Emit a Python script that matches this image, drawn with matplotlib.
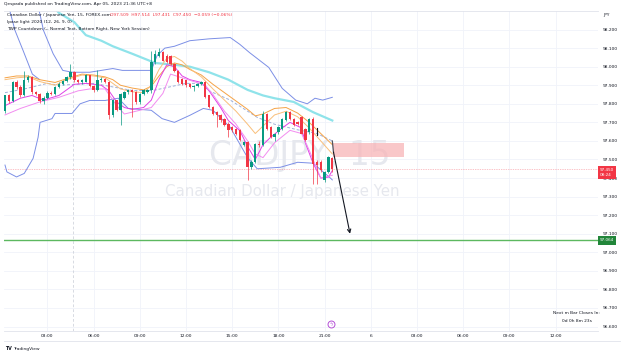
import matplotlib.pyplot as plt
import matplotlib.transforms as mtransforms
from matplotlib.patches import Rectangle
import numpy as np

# ---- candles (15m bars, index 0 = Apr 05 00:00) ----
bars = list(range(1, 87))
opens = [97.760, 97.845, 97.815, 97.917, 97.890, 97.845, 97.930, 97.944, 97.863, 97.855,
         97.815, 97.830, 97.860, 97.855, 97.890, 97.908, 97.925, 97.944, 97.971, 97.926,
         97.917, 97.920, 97.953, 97.895, 97.872, 97.926, 97.935, 97.917, 97.738, 97.818,
         97.764, 97.830, 97.863, 97.872, 97.863, 97.809, 97.854, 97.865, 97.874, 98.024,
         98.055, 98.078, 98.060, 98.055, 98.015, 97.975, 97.935, 97.926, 97.905, 97.890,
         97.895, 97.905, 97.917, 97.845, 97.782, 97.756, 97.738, 97.720, 97.693, 97.675,
         97.666, 97.657, 97.576, 97.594, 97.460, 97.487, 97.585, 97.576, 97.747, 97.675,
         97.620, 97.648, 97.666, 97.711, 97.756, 97.720, 97.700, 97.729, 97.666, 97.648,
         97.720, 97.487, 97.487, 97.388, 97.433, 97.509]
highs = [97.850, 97.855, 97.925, 97.930, 97.900, 97.975, 97.955, 97.950, 97.870, 97.860,
         97.840, 97.870, 97.870, 97.895, 97.915, 97.930, 97.950, 98.015, 97.975, 97.935,
         97.935, 97.960, 97.955, 97.900, 97.980, 97.945, 97.940, 97.925, 97.825, 97.822,
         97.858, 97.868, 97.880, 97.880, 97.870, 97.860, 97.878, 97.878, 98.087, 98.090,
         98.100, 98.085, 98.068, 98.062, 98.020, 97.980, 97.940, 97.930, 97.910, 97.900,
         97.910, 97.922, 97.925, 97.850, 97.790, 97.762, 97.745, 97.725, 97.700, 97.680,
         97.672, 97.662, 97.600, 97.600, 97.495, 97.590, 97.600, 97.760, 97.752, 97.680,
         97.645, 97.680, 97.725, 97.760, 97.762, 97.725, 97.705, 97.735, 97.672, 97.725,
         97.730, 97.495, 97.495, 97.440, 97.520, 97.514]
lows = [97.750, 97.805, 97.810, 97.880, 97.835, 97.840, 97.920, 97.855, 97.850, 97.805,
        97.800, 97.825, 97.850, 97.850, 97.885, 97.900, 97.918, 97.935, 97.920, 97.910,
        97.905, 97.915, 97.890, 97.865, 97.868, 97.915, 97.912, 97.720, 97.729, 97.760,
        97.684, 97.825, 97.855, 97.729, 97.800, 97.800, 97.850, 97.860, 97.860, 98.015,
        98.050, 98.028, 98.020, 98.010, 97.970, 97.912, 97.900, 97.892, 97.885, 97.870,
        97.890, 97.900, 97.830, 97.775, 97.740, 97.675, 97.700, 97.680, 97.621, 97.650,
        97.632, 97.598, 97.570, 97.388, 97.450, 97.480, 97.565, 97.570, 97.660, 97.615,
        97.600, 97.640, 97.660, 97.705, 97.715, 97.680, 97.685, 97.635, 97.598, 97.640,
        97.370, 97.370, 97.435, 97.380, 97.425, 97.431]
closes = [97.845, 97.815, 97.917, 97.890, 97.845, 97.930, 97.944, 97.863, 97.855, 97.815,
          97.830, 97.860, 97.855, 97.890, 97.908, 97.925, 97.944, 97.971, 97.926, 97.917,
          97.930, 97.953, 97.895, 97.872, 97.926, 97.935, 97.917, 97.738, 97.818, 97.764,
          97.854, 97.863, 97.872, 97.863, 97.809, 97.854, 97.872, 97.874, 98.024, 98.069,
          98.078, 98.033, 98.024, 98.015, 97.975, 97.920, 97.908, 97.899, 97.890, 97.895,
          97.905, 97.917, 97.836, 97.782, 97.747, 97.738, 97.711, 97.684, 97.657, 97.657,
          97.639, 97.603, 97.594, 97.460, 97.487, 97.585, 97.576, 97.747, 97.666, 97.620,
          97.640, 97.675, 97.720, 97.756, 97.720, 97.684, 97.690, 97.639, 97.603, 97.720,
          97.478, 97.469, 97.442, 97.433, 97.514, 97.450]

# ---- indicator lines at sample bars ----
cyan_x = [12, 15, 19, 22, 26, 29, 34, 40, 45, 49, 54, 59, 64, 68, 71, 76, 81, 86]
cyan_y = [98.36, 98.29, 98.24, 98.17, 98.14, 98.11, 98.07, 98.02, 98.01, 98.00, 97.97,
          97.93, 97.875, 97.845, 97.83, 97.81, 97.755, 97.71]

bb_up_x = [8, 10, 11, 13.5, 16, 18.5, 23, 29, 31.5, 39, 40.5, 42.5, 45, 49, 54, 59.5, 62,
           64.5, 69.5, 73, 76.5, 79.5, 81.5, 83.5, 86]
bb_up_y = [98.45, 98.29, 98.195, 98.07, 97.98, 97.97, 97.97, 97.99, 97.98, 97.98, 98.06,
           98.10, 98.11, 98.14, 98.15, 98.157, 98.12, 98.076, 97.996, 97.883, 97.82, 97.80,
           97.83, 97.82, 97.835]
band2_x = [1, 3.6, 5.7, 8.1, 10]
band2_y = [98.40, 98.195, 98.087, 97.96, 97.93]

bb_lo_x = [1, 1.5, 4, 6, 8.3, 9.6, 10.1, 13.2, 14, 18.4, 20.5, 23, 27, 30.4, 33, 39, 41.8,
           45, 49, 52.5, 55, 59.5, 64, 66.5, 72.5, 77, 81, 85.5, 86]
bb_lo_y = [97.47, 97.433, 97.406, 97.425, 97.506, 97.62, 97.70, 97.72, 97.748, 97.748,
           97.80, 97.818, 97.818, 97.83, 97.775, 97.765, 97.72, 97.70, 97.738, 97.775,
           97.765, 97.673, 97.51, 97.45, 97.458, 97.485, 97.48, 97.40, 97.39]

basis_x = [1, 6, 12, 15, 24, 34, 39.5, 48, 52, 54, 59.5, 66.5, 71, 77, 82, 86]
basis_y = [97.86, 97.88, 97.91, 97.90, 97.91, 97.872, 97.872, 97.91, 97.91, 97.87, 97.82,
           97.727, 97.69, 97.66, 97.64, 97.60]

org_slow_x = [1, 4, 7, 10, 14, 17, 21, 24, 27, 29, 31, 34, 37, 39, 41, 43, 45, 47, 49, 52,
              55, 58, 61, 64, 66, 68, 71, 74, 77, 80, 83, 86]
org_slow_y = [97.94, 97.95, 97.95, 97.93, 97.915, 97.935, 97.96, 97.955, 97.945, 97.93,
              97.90, 97.885, 97.875, 97.895, 97.95, 98.00, 98.02, 98.01, 97.985, 97.955,
              97.905, 97.86, 97.815, 97.77, 97.735, 97.745, 97.775, 97.78, 97.75, 97.70,
              97.64, 97.58]
org_fast_x = [1, 4, 7, 10, 14, 17, 21, 24, 27, 29, 31, 34, 37, 39, 41, 43, 45, 47, 49, 52,
              55, 58, 61, 64, 66, 68, 71, 74, 77, 80, 83, 86]
org_fast_y = [97.93, 97.94, 97.945, 97.92, 97.90, 97.93, 97.955, 97.95, 97.94, 97.91,
              97.88, 97.865, 97.86, 97.90, 97.985, 98.045, 98.055, 98.03, 97.99, 97.945,
              97.88, 97.82, 97.76, 97.69, 97.64, 97.68, 97.74, 97.76, 97.73, 97.67, 97.60,
              97.53]

mag1_x = [1, 5, 8, 11, 15, 19, 22, 26, 28, 30, 32, 34, 37, 39, 41, 43, 45, 47, 49, 52, 54,
          57, 59, 62, 64, 66, 68, 70, 73, 75, 78, 79, 81, 83, 85, 86]
mag1_y = [97.79, 97.83, 97.845, 97.82, 97.845, 97.905, 97.91, 97.90, 97.87, 97.81, 97.78,
          97.77, 97.78, 97.82, 97.93, 98.01, 98.00, 97.95, 97.93, 97.915, 97.87, 97.78,
          97.71, 97.655, 97.57, 97.50, 97.58, 97.62, 97.67, 97.70, 97.67, 97.59, 97.48,
          97.40, 97.405, 97.44]
mag2_x = [1, 5, 10, 15, 20, 23, 27, 30, 32, 36, 39, 42, 44, 47, 50, 53, 55, 58, 61, 64, 66,
          68, 71, 75, 78, 80, 83, 86]
mag2_y = [97.74, 97.775, 97.81, 97.835, 97.87, 97.88, 97.88, 97.79, 97.745, 97.765, 97.78,
          97.856, 97.96, 97.94, 97.92, 97.90, 97.85, 97.76, 97.69, 97.60, 97.53, 97.51,
          97.59, 97.657, 97.64, 97.55, 97.40, 97.415]

price_ticks = [96.6, 96.7, 96.8, 96.9, 97.0, 97.1, 97.2, 97.3, 97.4, 97.5, 97.6, 97.7,
               97.8, 97.9, 98.0, 98.1, 98.2]
time_ticks = [12, 24, 36, 48, 60, 72, 84, 96, 108, 120, 132, 144]
time_labels = ["03:00", "06:00", "09:00", "12:00", "15:00", "18:00", "21:00", "6",
               "03:00", "06:00", "09:00", "12:00"]

last_price = 97.450
target_price = 97.064
zone_lo, zone_hi = 97.512, 97.587
# hand-drawn path: short tick near bar 82, arrow from last candle down to target
tick_x, tick_y = [82, 82], [97.668, 97.630]
arrow_x = [86.0, 86.3, 90.6]
arrow_y = [97.600, 97.540, 97.100]

UP = "#089981"
DOWN = "#f23645"

fig = plt.figure(figsize=(6.25, 3.55), dpi=100)
ax = fig.add_axes([4 / 625, 24 / 355, 594 / 625, 320 / 355])
ax.set_xlim(0.74, 155.0)
ax.set_ylim(96.576, 98.30)

# grid
for y in price_ticks:
    ax.axhline(y, color="#f0f3fa", lw=0.6, zorder=0)
for x in time_ticks:
    ax.axvline(x, color="#f0f3fa", lw=0.6, zorder=0)
ax.axvline(18.75, color="#c8ccd6", lw=0.5, ls=(0, (4, 3)), zorder=0)

# watermark
ax.text(77.5, 97.52, "CADJPY, 15", ha="center", va="center", fontsize=23.5,
        color="#e6e8ee", zorder=0.5)
ax.text(73.0, 97.33, "Canadian Dollar / Japanese Yen", ha="center", va="center",
        fontsize=10.8, color="#e6e8ee", zorder=0.5)

# indicators
ax.plot(cyan_x, cyan_y, color="#8fe3ea", lw=1.6, zorder=2)
ax.plot(bb_up_x, bb_up_y, color="#7c8fe6", lw=0.7, zorder=2)
ax.plot(band2_x, band2_y, color="#7c8fe6", lw=0.7, zorder=2)
ax.plot(bb_lo_x, bb_lo_y, color="#7c8fe6", lw=0.7, zorder=2)
ax.plot(basis_x, basis_y, color="#9fb0d9", lw=0.7, ls=(0, (3, 2)), zorder=2)
ax.plot(org_slow_x, org_slow_y, color="#f5a346", lw=0.7, zorder=2)
ax.plot(org_fast_x, org_fast_y, color="#f9bf7a", lw=0.7, zorder=2)
ax.plot(mag1_x, mag1_y, color="#e040e6", lw=0.7, zorder=2)
ax.plot(mag2_x, mag2_y, color="#f28cf0", lw=0.7, zorder=2)

# candles
o = np.array(opens); c = np.array(closes)
cols = [UP if cc >= oo else DOWN for oo, cc in zip(o, c)]
ax.vlines(bars, lows, highs, colors=cols, lw=0.5, zorder=3)
body = np.where(np.abs(c - o) < 0.004, 0.004, c - o)
ax.bar(bars, body, bottom=o, width=0.62, color=cols, lw=0, zorder=3)

# price lines / drawings
ax.axhline(last_price, color=DOWN, lw=0.5, ls=(0, (1, 1.5)), alpha=0.6, zorder=1)
ax.axhline(target_price, color="#5cb860", lw=1.0, zorder=1)
ax.add_patch(Rectangle((86.3, zone_lo), 18.3, zone_hi - zone_lo, fc="#f8b5b8",
                       ec="none", alpha=0.75, zorder=1))
ax.plot(tick_x, tick_y, color="#131722", lw=0.8, zorder=4)
ax.plot(arrow_x[:2], arrow_y[:2], color="#50535e", lw=0.9, zorder=4)
ax.annotate("", xy=(arrow_x[2], arrow_y[2]), xytext=(arrow_x[1], arrow_y[1]),
            arrowprops=dict(arrowstyle="->", color="#131722", lw=0.8,
                            mutation_scale=6, shrinkA=0, shrinkB=0), zorder=4)

# event marker
ax.plot([85.7], [96.612], marker="o", ms=5, mfc="white", mec="#b44fd6", mew=0.7, zorder=4,
        clip_on=False)
ax.text(85.7, 96.612, "ϟ", ha="center", va="center", fontsize=3.5, color="#b44fd6",
        zorder=5)

# countdown
ax.text(149.5, 96.675, "Next m Bar Closes In:", ha="center", va="center", fontsize=3.2,
        color="#131722")
ax.text(149.5, 96.628, "0d 0h 8m 23s", ha="center", va="center", fontsize=3.2,
        color="#131722")

# axes
ax.yaxis.tick_right()
ax.set_yticks(price_ticks)
ax.set_yticklabels(["%.3f" % v for v in price_ticks])
ax.set_xticks(time_ticks)
ax.set_xticklabels(time_labels)
ax.tick_params(axis="both", length=0, labelsize=3.2, labelcolor="#131722")
ax.tick_params(axis="y", pad=3.5)
ax.tick_params(axis="x", pad=2.5)
for side in ["left", "right"]:
    ax.spines[side].set_visible(False)
ax.spines["top"].set_color("#e0e3eb"); ax.spines["top"].set_linewidth(0.6)
ax.spines["bottom"].set_color("#e0e3eb"); ax.spines["bottom"].set_linewidth(0.6)
fig.add_artist(plt.Line2D([4 / 625, 620 / 625], [14 / 355, 14 / 355], color="#e0e3eb",
                          lw=0.6))

# price labels on the scale
blend = mtransforms.blended_transform_factory(ax.transAxes, ax.transData)
ax.text(1.003, last_price - 0.022, "97.450\n08:24", transform=blend, ha="left",
        va="center", fontsize=3.0, color="white", linespacing=1.3,
        bbox=dict(boxstyle="square,pad=0.5", fc=DOWN, ec="none"), clip_on=False)
ax.text(1.003, target_price, "97.064", transform=blend, ha="left", va="center",
        fontsize=3.0, color="white",
        bbox=dict(boxstyle="square,pad=0.5", fc="#22863a", ec="none"), clip_on=False)

# header
fig.text(4 / 625, 1 - 4 / 355, "Qespada published on TradingView.com, Apr 05, 2023 21:36 UTC+8",
         fontsize=3.2, va="center", color="#131722")
fig.text(7 / 625, 1 - 15 / 355, "Canadian Dollar / Japanese Yen, 15, FOREX.com",
         fontsize=3.2, va="center", color="#131722")
fig.text(110 / 625, 1 - 15 / 355, "O97.509  H97.514  L97.431  C97.450  \u22120.059 (\u22120.06%)",
         fontsize=3.2, va="center", color=DOWN)
fig.text(7 / 625, 1 - 22 / 355, "Ipase light 2020 (12, 26, 9, 0)", fontsize=3.2,
         va="center", color="#131722")
fig.text(7 / 625, 1 - 29 / 355, "TWP Countdown (,, Normal Text, Bottom Right, New York Session)",
         fontsize=3.2, va="center", color="#131722")
fig.text(603 / 625, 1 - 15 / 355, "JPY", fontsize=3.2, va="center", color="#131722")
fig.text(5 / 625, 1 - 349 / 355, "TV", fontsize=3.4, va="center", weight="bold",
         color="#131722")
fig.text(13 / 625, 1 - 349 / 355, "TradingView", fontsize=3.2, va="center", color="#131722")

fig.savefig("out.png", dpi=100)
